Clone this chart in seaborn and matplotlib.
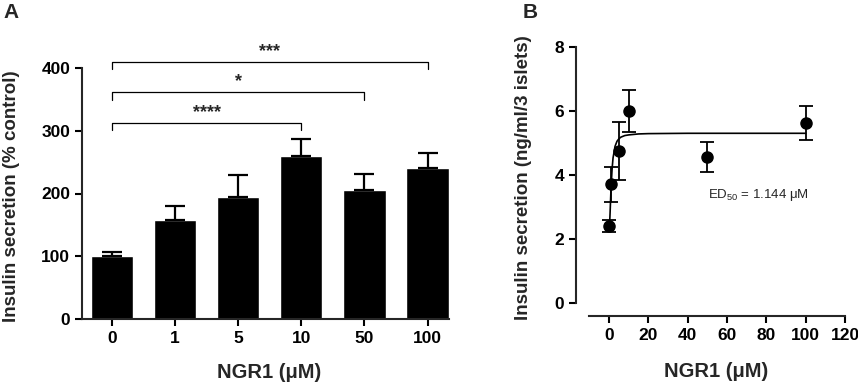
import matplotlib
matplotlib.use("Agg")
import matplotlib.pyplot as plt
import seaborn as sns
import pandas as pd
import numpy as np

# ---- Data: panel A ----
doses_a = ["0", "1", "5", "10", "50", "100"]
secretion_pct = [100, 157, 194, 260, 206, 241]
secretion_pct_err = [7, 23, 36, 27, 25, 23]
brackets_to = [3, 4, 5]          # index of comparison bar (vs 0)
brackets_y = [313, 361, 410]
brackets_lbl = ["****", "*", "***"]

# ---- Data: panel B ----
dose_b = [0, 1, 5, 10, 50, 100]
secretion_b = [2.40, 3.70, 4.74, 6.00, 4.56, 5.61]
secretion_b_err = [0.20, 0.55, 0.90, 0.65, 0.47, 0.53]
# fitted curve
fit_x = [0, 0.25, 0.5, 0.75, 1, 1.5, 2, 3, 4, 5, 6, 8, 10, 15, 20, 40, 60, 80, 100]
fit_y = [2.30, 2.46, 2.82, 3.23, 3.61, 4.18, 4.53, 4.89, 5.05, 5.13, 5.18, 5.23,
         5.25, 5.28, 5.29, 5.30, 5.30, 5.30, 5.30]
ed50_text = "ED$_\\mathregular{50}$ = 1.144 \u03bcM"

sns.set_theme(style="ticks")
plt.rcParams["font.family"] = ["Liberation Sans", "DejaVu Sans"]

W, H = 858, 384
fig = plt.figure(figsize=(W / 100, H / 100), dpi=100)

def frac(x0, y0, x1, y1):
    return [x0 / W, 1 - y1 / H, (x1 - x0) / W, (y1 - y0) / H]

lw_sp = 1.5
tick_fs = 12.5
lab_fs = 13.5
xlab_fs = 14.5

# ---------------- Panel A ----------------
axA = fig.add_axes(frac(82, 68, 449, 319))
dfA = pd.DataFrame({"dose": doses_a, "val": secretion_pct})
sns.barplot(data=dfA, x="dose", y="val", order=doses_a, color="black",
            width=0.67, errorbar=None, ax=axA, saturation=1)
axA.errorbar(np.arange(len(doses_a)), secretion_pct,
             yerr=[np.zeros(len(doses_a)), secretion_pct_err], fmt="none",
             ecolor="black", elinewidth=1.6, capsize=7.5, capthick=1.6)
axA.set_xlim(-0.476, 5.34)
axA.set_ylim(0, 400)
axA.set_yticks([0, 100, 200, 300, 400])
for s in ["top", "right"]:
    axA.spines[s].set_visible(False)
for s in ["left", "bottom"]:
    axA.spines[s].set_linewidth(lw_sp)
axA.tick_params(width=lw_sp, length=5, labelsize=tick_fs, colors="black")
for t in axA.get_xticklabels() + axA.get_yticklabels():
    t.set_fontweight("bold")
axA.set_xlabel("NGR1 (\u03bcM)", fontsize=xlab_fs, fontweight="bold")
axA.set_ylabel("Insulin secretion (% control)", fontsize=lab_fs, fontweight="bold")
axA.xaxis.set_label_coords(0.51, -0.175)
axA.yaxis.set_label_coords(-0.17, 0.49)
for i, yb, lbl in zip(brackets_to, brackets_y, brackets_lbl):
    axA.plot([0, 0, i, i], [yb - 12, yb, yb, yb - 12], color="black", lw=0.9,
             clip_on=False)
    axA.text(i / 2, yb + 3, lbl, ha="center", va="bottom", fontsize=13,
             fontweight="bold")

# ---------------- Panel B ----------------
axB = fig.add_axes(frac(575.7, 47, 845, 302.7))
sns.lineplot(x=fit_x, y=fit_y, color="black", lw=1.2, ax=axB)
axB.errorbar(dose_b, secretion_b, yerr=secretion_b_err, fmt="o", color="black",
             markersize=8, elinewidth=1.3, capsize=5, capthick=1.3, zorder=3)
axB.set_xlim(-17, 120)
axB.set_ylim(0, 8)
axB.set_yticks([0, 2, 4, 6, 8])
axB.set_xticks([0, 20, 40, 60, 80, 100, 120])
for s in ["top", "right"]:
    axB.spines[s].set_visible(False)
for s in ["left", "bottom"]:
    axB.spines[s].set_linewidth(lw_sp)
axB.spines["left"].set_bounds(0, 8)
axB.spines["bottom"].set_bounds(-10, 120)
axB.spines["bottom"].set_position(("outward", 9.4))
axB.tick_params(width=lw_sp, length=5, labelsize=tick_fs, colors="black")
for t in axB.get_xticklabels() + axB.get_yticklabels():
    t.set_fontweight("bold")
axB.set_xlabel("NGR1 (\u03bcM)", fontsize=xlab_fs, fontweight="bold")
axB.set_ylabel("Insulin secretion (ng/ml/3 islets)", fontsize=lab_fs, fontweight="bold")
axB.xaxis.set_label_coords(0.52, -0.232)
axB.yaxis.set_label_coords(-0.162, 0.49)
axB.text(50.3, 3.37, ed50_text, ha="left", va="center", fontsize=9.5)

fig.text(3 / W, 1 - 3 / H, "A", ha="left", va="top", fontsize=15, fontweight="bold")
fig.text(523 / W, 1 - 3 / H, "B", ha="left", va="top", fontsize=15, fontweight="bold")

fig.savefig("out.png", dpi=100)
